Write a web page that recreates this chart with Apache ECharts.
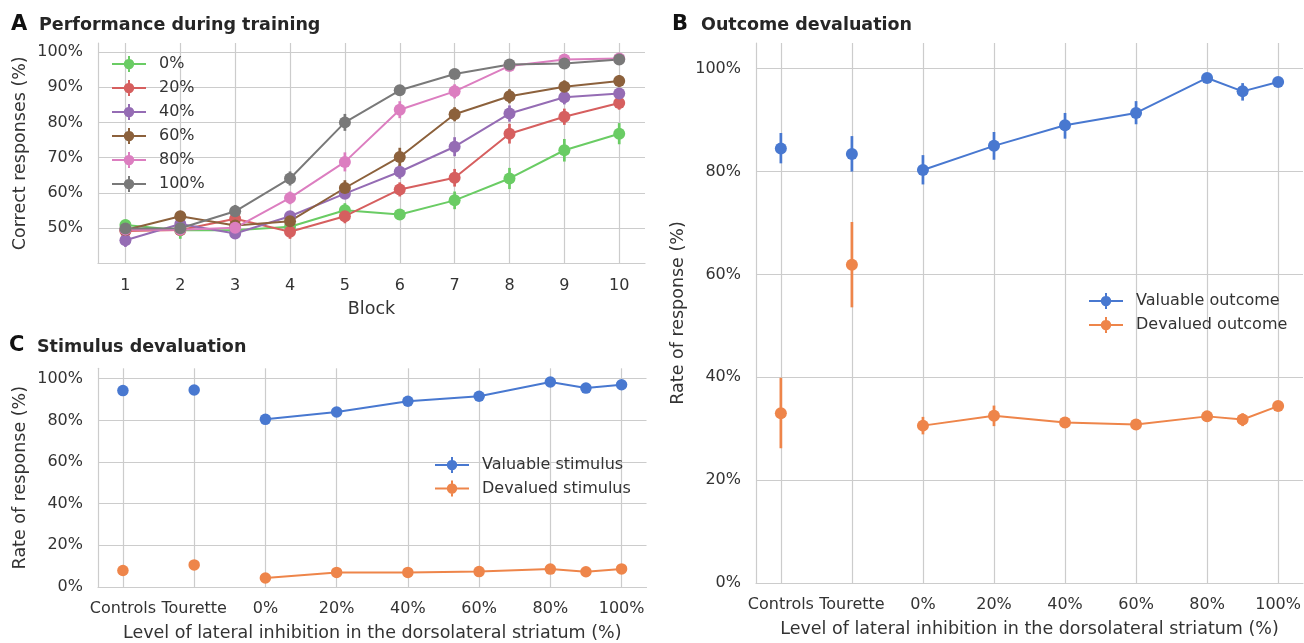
<!DOCTYPE html>
<html><head><meta charset="utf-8">
<script src="https://cdn.jsdelivr.net/npm/echarts@6/dist/echarts.min.js"></script>
<style>html,body{margin:0;padding:0;background:#fff}#c{width:1304px;height:643px}</style>
</head><body><div id="c"></div>
<script>
// ---------- Panel A: performance during training ----------
const blocks = [1, 2, 3, 4, 5, 6, 7, 8, 9, 10];
const trainingLevels = ['0%', '20%', '40%', '60%', '80%', '100%'];
const acc0   = [50.9, 49.4, 49.4, 50.4, 55.1, 53.9, 57.9, 64.1, 72.1, 76.8];
const acc20  = [49.2, 49.5, 52.7, 49.0, 53.4, 61.0, 64.3, 76.8, 81.6, 85.5];
const acc40  = [46.6, 51.2, 48.5, 53.4, 59.8, 66.0, 73.1, 82.5, 87.1, 88.2];
const acc60  = [49.5, 53.4, 50.8, 52.0, 61.4, 70.2, 82.3, 87.4, 90.1, 91.7];
const acc80  = [49.6, 49.6, 50.1, 58.6, 68.8, 83.6, 88.8, 96.0, 97.8, 98.1];
const acc100 = [49.9, 50.0, 54.8, 64.1, 80.0, 89.1, 93.7, 96.4, 96.7, 97.8];
const err0   = [1.5, 2.4, 1.5, 1.5, 2.0, 1.5, 2.5, 3.0, 3.2, 3.0];
const err20  = [1.5, 1.5, 1.5, 2.0, 2.0, 2.0, 2.5, 2.8, 2.3, 1.9];
const err40  = [1.9, 1.5, 1.5, 1.5, 1.5, 2.0, 2.7, 2.3, 2.0, 1.5];
const err60  = [1.5, 1.5, 1.5, 1.5, 2.2, 2.6, 2.0, 2.0, 1.8, 1.7];
const err80  = [1.5, 1.5, 1.5, 1.8, 2.7, 2.4, 2.0, 1.0, 1.0, 0.8];
const err100 = [1.5, 1.5, 1.8, 2.0, 2.4, 1.5, 1.2, 1.0, 1.2, 1.0];
const accTicks = [50, 60, 70, 80, 90, 100];

// ---------- Panels B & C: groups ----------
const humanGroups = ['Controls', 'Tourette'];
const modelLevels = [0, 20, 40, 60, 80, 90, 100];
const levelTicks = [0, 20, 40, 60, 80, 100];
const rateTicks = [0, 20, 40, 60, 80, 100];

// Panel B: outcome devaluation (mean, lower, upper)
const outValHuman    = [84.5, 83.4];
const outValHumanLo  = [81.6, 80.0];
const outValHumanHi  = [87.5, 86.9];
const outValModel    = [80.3, 85.0, 89.0, 91.4, 98.2, 95.6, 97.4];
const outValModelLo  = [77.5, 82.3, 86.4, 89.2, 97.6, 93.8, 96.6];
const outValModelHi  = [83.2, 87.7, 91.4, 93.7, 98.8, 97.2, 98.2];
const outDevHuman    = [33.0, 61.9];
const outDevHumanLo  = [26.2, 53.6];
const outDevHumanHi  = [39.9, 70.2];
const outDevModel    = [30.6, 32.5, 31.2, 30.8, 32.4, 31.8, 34.4];
const outDevModelLo  = [28.9, 30.5, 30.2, 29.9, 31.4, 30.5, 33.4];
const outDevModelHi  = [32.3, 34.5, 32.2, 31.7, 33.4, 33.0, 35.4];

// Panel C: stimulus devaluation
const stimValHuman = [94.3, 94.6];
const stimValModel = [80.5, 84.0, 89.2, 91.6, 98.4, 95.5, 97.1];
const stimDevHuman = [7.9, 10.6];
const stimDevModel = [4.3, 7.0, 7.0, 7.4, 8.6, 7.3, 8.7];

// ---------- styling ----------
const FONT = 'DejaVu Sans';
const TXT = '#333333';
const GRID = '#cccccc';
const trainColors = ['#6acc64', '#d65f5f', '#956cb4', '#8c613c', '#dc7ec0', '#797979'];
const BLUE = '#4878d0', ORANGE = '#ee854a';
const ICON = 'path://M0,7H34V9H0Z M16,0H18V16H16Z M22.2,8A5.2,5.2,0,1,1,11.8,8A5.2,5.2,0,1,1,22.2,8Z';

// human groups are placed left of 0% on the level axis
const humanX = humanGroups.map((g, i) => -20 * (humanGroups.length - i));
const xLabel = v => v < 0 ? humanGroups[humanGroups.length + v / 20] : v + '%';
const groupTicks = humanX.concat(levelTicks);

function errSeries(xi, rows, color) {
  return {
    type: 'custom', xAxisIndex: xi, yAxisIndex: xi, silent: true, z: 2,
    encode: { x: 0, y: [1, 2] },
    renderItem(params, api) {
      const a = api.coord([api.value(0), api.value(1)]);
      const b = api.coord([api.value(0), api.value(2)]);
      return { type: 'line', shape: { x1: a[0], y1: a[1], x2: b[0], y2: b[1] },
               style: { stroke: color, lineWidth: 2.7 } };
    },
    data: rows
  };
}
function lineSeries(xi, name, pts, color, size) {
  return {
    type: 'line', name, xAxisIndex: xi, yAxisIndex: xi, data: pts, z: 3,
    symbol: 'circle', symbolSize: size, showSymbol: true,
    itemStyle: { color }, lineStyle: { color, width: 2 },
    emphasis: { disabled: true }
  };
}
function scatterSeries(xi, name, pts, color, size) {
  return {
    type: 'scatter', name, xAxisIndex: xi, yAxisIndex: xi, data: pts, z: 3,
    symbol: 'circle', symbolSize: size, itemStyle: { color, opacity: 1 },
    emphasis: { disabled: true }
  };
}

const series = [];
// Panel A
const accs = [acc0, acc20, acc40, acc60, acc80, acc100];
const errs = [err0, err20, err40, err60, err80, err100];
trainingLevels.forEach((lvl, k) => {
  series.push(errSeries(0, blocks.map((b, i) => [b, accs[k][i] - errs[k][i], accs[k][i] + errs[k][i]]), trainColors[k]));
  series.push(lineSeries(0, lvl, blocks.map((b, i) => [b, accs[k][i]]), trainColors[k], 12));
});
// Panel B
series.push(errSeries(1, humanX.map((x, i) => [x, outValHumanLo[i], outValHumanHi[i]]), BLUE));
series.push(errSeries(1, modelLevels.map((x, i) => [x, outValModelLo[i], outValModelHi[i]]), BLUE));
series.push(errSeries(1, humanX.map((x, i) => [x, outDevHumanLo[i], outDevHumanHi[i]]), ORANGE));
series.push(errSeries(1, modelLevels.map((x, i) => [x, outDevModelLo[i], outDevModelHi[i]]), ORANGE));
series.push(lineSeries(1, 'Valuable outcome', modelLevels.map((x, i) => [x, outValModel[i]]), BLUE, 12));
series.push(scatterSeries(1, 'Valuable outcome', humanX.map((x, i) => [x, outValHuman[i]]), BLUE, 12));
series.push(lineSeries(1, 'Devalued outcome', modelLevels.map((x, i) => [x, outDevModel[i]]), ORANGE, 12));
series.push(scatterSeries(1, 'Devalued outcome', humanX.map((x, i) => [x, outDevHuman[i]]), ORANGE, 12));
// Panel C
series.push(lineSeries(2, 'Valuable stimulus', modelLevels.map((x, i) => [x, stimValModel[i]]), BLUE, 11.5));
series.push(scatterSeries(2, 'Valuable stimulus', humanX.map((x, i) => [x, stimValHuman[i]]), BLUE, 11.5));
series.push(lineSeries(2, 'Devalued stimulus', modelLevels.map((x, i) => [x, stimDevModel[i]]), ORANGE, 11.5));
series.push(scatterSeries(2, 'Devalued stimulus', humanX.map((x, i) => [x, stimDevHuman[i]]), ORANGE, 11.5));

const gridLine = { show: true, lineStyle: { color: GRID, width: 1.2 } };
const spine = { show: true, onZero: false, lineStyle: { color: GRID, width: 1.2 } };
const tickLbl = (vals, fmt, margin) => ({ customValues: vals, formatter: fmt, fontFamily: FONT, fontSize: 16, color: TXT, margin });
const nameStyle = { fontFamily: FONT, fontSize: 17.5, color: TXT };

function xAx(gi, min, max, ticks, fmt, name) {
  return { gridIndex: gi, type: 'value', min, max,
    axisTick: { show: false, customValues: ticks },
    axisLabel: tickLbl(ticks, fmt, 14),
    splitLine: gridLine, axisLine: spine,
    name, nameLocation: 'middle', nameGap: 37, nameTextStyle: nameStyle };
}
function yAx(gi, min, max, ticks, name) {
  return { gridIndex: gi, type: 'value', min, max,
    axisTick: { show: false, customValues: ticks },
    axisLabel: tickLbl(ticks, v => v + '%', 15),
    splitLine: gridLine, axisLine: spine,
    name, nameLocation: 'middle', nameGap: 69, nameTextStyle: nameStyle };
}

const legendBase = { orient: 'vertical', padding: 0, itemWidth: 34, itemHeight: 16, itemGap: 8,
  icon: ICON, selectedMode: false,
  textStyle: { fontFamily: FONT, fontSize: 16, color: TXT, padding: [0, 0, 0, 8] } };

const titleBig = { fontFamily: FONT, fontSize: 21, fontWeight: 'bold', color: '#111' };
const titleSmall = { fontFamily: FONT, fontSize: 17.5, fontWeight: 'bold', color: '#262626' };

const option = {
  animation: false,
  backgroundColor: '#ffffff',
  title: [
    { text: 'A', left: 11, top: 14, padding: 0, textStyle: titleBig },
    { text: 'Performance during training', left: 39, top: 16.5, padding: 0, textStyle: titleSmall },
    { text: 'B', left: 672, top: 14, padding: 0, textStyle: titleBig },
    { text: 'Outcome devaluation', left: 701, top: 16.5, padding: 0, textStyle: titleSmall },
    { text: 'C', left: 9, top: 335, padding: 0, textStyle: titleBig },
    { text: 'Stimulus devaluation', left: 37, top: 338, padding: 0, textStyle: titleSmall }
  ],
  legend: [
    Object.assign({}, legendBase, { left: 112, top: 56, data: trainingLevels }),
    Object.assign({}, legendBase, { left: 1089, top: 293, data: ['Valuable outcome', 'Devalued outcome'] }),
    Object.assign({}, legendBase, { left: 435, top: 457, itemGap: 7.5, data: ['Valuable stimulus', 'Devalued stimulus'] })
  ],
  grid: [
    { left: 98, top: 43, width: 547, height: 220.5 },
    { left: 756, top: 43, width: 548, height: 544.3 },
    { left: 98, top: 368.3, width: 548.5, height: 219 }
  ],
  xAxis: [
    xAx(0, 0.5, 10.47, blocks, v => String(v), 'Block'),
    xAx(1, -47, 107, groupTicks, xLabel, 'Level of lateral inhibition in the dorsolateral striatum (%)'),
    xAx(2, -47, 107, groupTicks, xLabel, 'Level of lateral inhibition in the dorsolateral striatum (%)')
  ],
  yAxis: [
    yAx(0, 40, 102.5, accTicks, 'Correct responses (%)'),
    yAx(1, 0, 105, rateTicks, 'Rate of response (%)'),
    yAx(2, 0, 105, rateTicks, 'Rate of response (%)')
  ],
  series
};
const chart = echarts.init(document.getElementById('c'), null, { renderer: 'canvas' });
chart.setOption(option);
</script>
</body></html>
